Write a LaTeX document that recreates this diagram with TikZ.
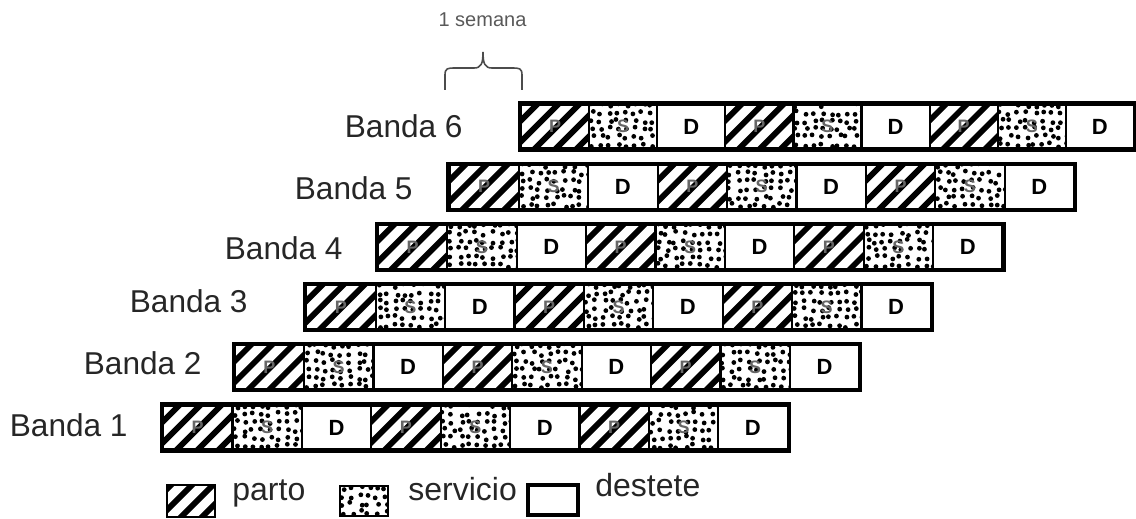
\documentclass[tikz,border=0pt]{standalone}
\usepackage{fontspec}
\setmainfont{Liberation Sans}
\begin{document}
\begin{tikzpicture}[x=0.5pt,y=0.5pt,
  hatchfill/.style={path picture={\foreach \k in {-72,-51,...,80} \draw[line width=2.9pt] ([shift={(\k,-2)}]path picture bounding box.south west) -- ++(64,64);}},
  dotfill/.style={path picture={\pgfmathsetseed{#1}\foreach \r in {0,...,5} \foreach \c in {0,...,8} {\pgfmathsetmacro\dx{\c*8.4+3.5+rand*2.4}\pgfmathsetmacro\dy{\r*8+3.5+rand*2.2}\fill ([shift={(\dx,\dy)}]path picture bounding box.south west) circle (2.4);}}},
  cellbase/.style={draw, line width=1.1pt, inner sep=0pt, minimum height=22pt, font=\fontsize{11}{12}\selectfont\bfseries},
  pcell/.style={cellbase, hatchfill},
  scell/.style={cellbase, dotfill=#1},
  dcell/.style={cellbase, fill=white},
  outerbar/.style={draw, line width=2pt},
  lab/.style={font=\fontsize{15.8}{18}\selectfont, text=black!85, inner sep=0pt},
  leg/.style={font=\fontsize{16}{18}\selectfont, text=black!85, inner sep=0pt},
  bracepath/.style={draw=black!70, line width=0.8pt}
]
\useasboundingbox (0,0) rectangle (1136,519);
\foreach \i/\L/\Y/\w in {1/163/91.5/69.4, 2/234.6/151.7/69.4, 3/306.2/211.9/69.4, 4/377.8/272.1/69.4, 5/449.4/332.3/69.4, 6/521/392.5/68.1} {
  \pgfmathsetmacro\cw{\w*0.5}
  \foreach \j in {0,...,8} {
    \pgfmathsetmacro\cx{\L+(\j+0.5)*\w}
    \pgfmathtruncatemacro\t{mod(\j,3)}
    \ifcase\t
      \node[pcell, minimum width=\cw pt, text=black!60] (b\i c\j) at (\cx,\Y) {\fontsize{9}{10}\selectfont P};
    \or
      \node[scell=\i\j, minimum width=\cw pt, text=black!60] (b\i c\j) at (\cx,\Y) {\fontsize{9}{10}\selectfont S};
    \or
      \node[dcell, minimum width=\cw pt] (b\i c\j) at (\cx,\Y) {D};
    \fi
  }
  \draw[outerbar] (b\i c0.north west) rectangle (b\i c8.south east);
}
\node[lab, anchor=base east] (l1) at (128,82) {Banda 1};
\node[lab, anchor=base east] (l2) at (202,144) {Banda 2};
\node[lab, anchor=base east] (l3) at (248,206) {Banda 3};
\node[lab, anchor=base east] (l4) at (343,259) {Banda 4};
\node[lab, anchor=base east] (l5) at (413,319) {Banda 5};
\node[lab, anchor=base east] (l6) at (463,381) {Banda 6};
% one week brace
\node[font=\fontsize{10}{12}\selectfont, text=black!65, inner sep=0pt] (sem) at (482.5,499) {1 semana};
\draw[bracepath] (445,429) -- (445,444) .. controls (445,451) and (448,451) .. (455,451) -- (474,451) .. controls (481,451) and (483,455) .. (483,467) .. controls (483,455) and (485,451) .. (492,451) -- (512,451) .. controls (519,451) and (522,451) .. (522,444) -- (522,429);
% legend
\node[pcell, line width=0.6pt, minimum width=24pt, minimum height=16pt] (lp) at (191,18) {};
\node[leg, anchor=base west] (tp) at (232,18) {parto};
\node[scell=99, line width=0.6pt, minimum width=24pt, minimum height=15pt] (ls) at (364,18) {};
\node[leg, anchor=base west] (ts) at (408,18) {servicio};
\node[dcell, line width=2pt, minimum width=25pt, minimum height=15pt] (ld) at (553,19) {};
\node[leg, anchor=base west] (td) at (595,22) {destete};
\end{tikzpicture}
\end{document}
